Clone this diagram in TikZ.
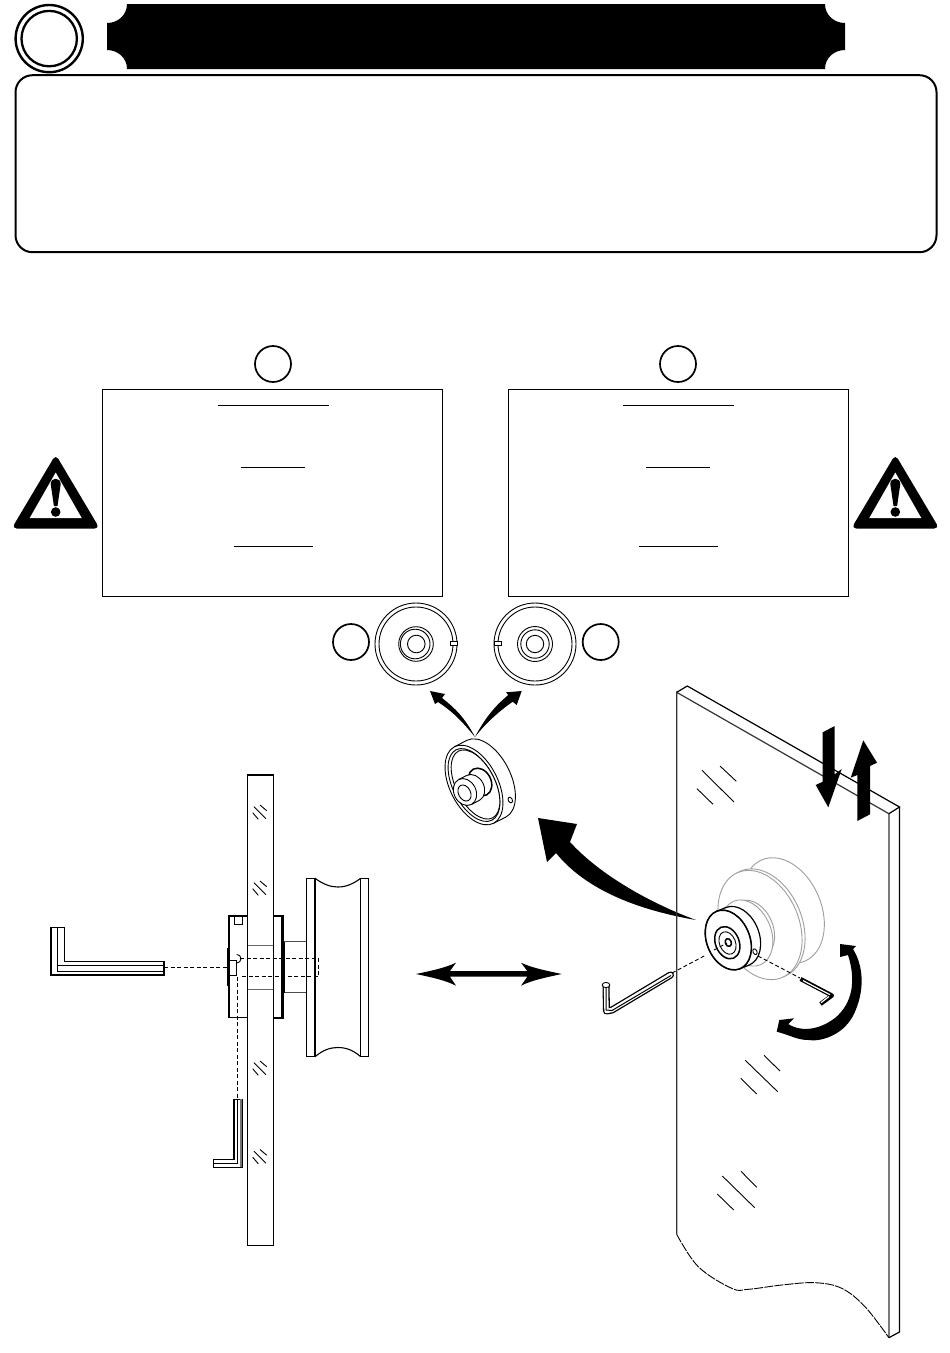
\documentclass[tikz,border=0pt]{standalone}
\tikzset{
  ink/.style={draw=black,line width=#1},
  badge/.style={circle,draw=black,line width=1.7pt,minimum size=36pt,inner sep=0pt},
  panel/.style={rectangle,draw=black,line width=1.2pt,minimum width=340pt,minimum height=207pt,inner sep=0pt},
  uline/.style={draw=black,line width=1pt},
  leader/.style={draw=black,line width=.9pt,dash pattern=on 4pt off 2.5pt},
  thin part/.style={draw=black,line width=.9pt,fill=white},
  ghost/.style={draw=black!38,line width=.9pt,fill=white},
  dark part/.style={draw=black,line width=1.5pt,fill=white},
  hatch/.style={draw=black,line width=.9pt},
  glass/.style={draw=black,line width=1.2pt},
}
% #1 style, #2 x, #3 y, #4 angle, #5 a, #6 b
\newcommand\ovalat[6]{\path[#1,shift={(#2,#3)},rotate=#4] (0,0) ellipse [x radius=#5pt,y radius=#6pt];}
% cylinder: #7 depth
\newcommand\cylat[7]{\begin{scope}[shift={(#2,#3)},rotate=#4]
  \path[#1] (0,-#7) ellipse [x radius=#5pt,y radius=#6pt];
  \fill[white] (-#5,0) rectangle (#5,-#7);
  \path[#1,fill=none] (-#5,0) -- (-#5,-#7) (#5,0) -- (#5,-#7);
  \path[#1] (0,0) ellipse [x radius=#5pt,y radius=#6pt];
\end{scope}}
\newcommand\warnsign[1]{
  \fill[black,rounded corners=5pt] (#1,454.5) -- (#1+44,528.5) -- (#1-44,528.5) -- cycle;
  \fill[white] (#1,472.5) -- (#1+26,518) -- (#1-26,518) -- cycle;
  \fill[black] (#1-5,484) .. controls (#1-5,477) and (#1+5,477) .. (#1+5,484) -- (#1+1.8,506) -- (#1-1.8,506) -- cycle;
  \fill[black] (#1,512) circle [radius=4.8pt];
}
\begin{document}
\begin{tikzpicture}[x=1pt,y=-1pt]
\useasboundingbox (0,0) rectangle (950,1353);

% header
\node[circle,draw=black,line width=2.4pt,minimum size=67.2pt,inner sep=0pt] (ringout) at (49.2,38.6) {};
\node[circle,draw=black,line width=2.3pt,minimum size=55.4pt,inner sep=0pt] (ringin) at (49.2,38.6) {};
\fill[black] (127,4) -- (825,4) .. controls (825,15) and (834,23) .. (845,23) -- (845,50)
  .. controls (834,50) and (825,58) .. (825,69) -- (127,69) .. controls (127,58) and (118,50) .. (107,50)
  -- (107,23) .. controls (118,23) and (127,15) .. (127,4) -- cycle;
\node[rectangle,draw=black,line width=2pt,rounded corners=17pt,minimum width=921pt,minimum height=177pt,inner sep=0pt] (intro) at (476,163.7) {};

% panels
\node[badge] (ca) at (273,364) {};
\node[badge] (cb) at (678,364) {};
\node[panel] (pa) at (272.5,493) {};
\node[panel] (pb) at (678.5,493) {};
\draw[uline] (217.5,405.3) -- (329,405.3) (241,467.6) -- (305,467.6) (233.5,546.5) -- (313,546.5);
\draw[uline] (622.5,405.3) -- (734,405.3) (646,467.6) -- (710,467.6) (638.5,546.5) -- (718,546.5);
\warnsign{55.7}
\warnsign{895.3}

% front views
\node[badge] (cc) at (351,642) {};
\node[badge] (cd) at (600.7,642) {};
\draw[black,line width=.9pt] (416,644) circle [radius=41pt] (416,644) circle [radius=37pt]
  (416,644) circle [radius=17.3pt] (415.2,644) circle [radius=14.8pt] (416.3,644) circle [radius=8.8pt];
\draw[black,line width=.9pt,fill=white] (450.7,641.7) rectangle (457,645.7);
\draw[black,line width=.9pt] (535,644) circle [radius=41pt] (535,644) circle [radius=37pt]
  (535,644) circle [radius=17.5pt] (535,644) circle [radius=14.2pt] (535,644) circle [radius=8.7pt];
\draw[black,line width=.9pt,fill=white] (494,641.7) rectangle (501,645.7);

% small arrows
\fill[black] (475,737) .. controls (465,718) and (455,708) .. (442,698) -- (445,694) -- (430,691) -- (435,704) -- (438,702) .. controls (455,713) and (465,725) .. (475,737) -- cycle;
\fill[black] (475,737) .. controls (485,718) and (495,706) .. (508.3,695) -- (506,692.3) -- (521.7,691) -- (516.7,705) -- (512.7,701.7) .. controls (498,712) and (485,724) .. (475,737) -- cycle;

% tilted hub
\cylat{thin part}{474}{785}{-63}{43}{24}{14}
\ovalat{thin part}{474}{785}{-63}{39.5}{21}
\ovalat{thin part}{475.5}{784.5}{-63}{37.5}{19.5}
\ovalat{dark part}{480}{782}{-63}{14.5}{11}
\cylat{thin part}{465}{792}{-63}{14}{11}{9}
\ovalat{thin part}{464.5}{793}{-63}{8.5}{6}
\ovalat{thin part}{510.3}{800}{-63}{3}{2}

% big arrow
\fill[black] (538,818) -- (577,824) -- (570,842) .. controls (600,875) and (650,903) .. (696,920)
  .. controls (650,912) and (590,895) .. (556,853) -- (547,862) -- cycle;

% double arrow
\fill[black] (416,974) .. controls (430,971) and (445,968) .. (456,962.7) -- (450,971) -- (527.3,971) -- (521,962.7)
  .. controls (532,968) and (548,971) .. (561.7,974) .. controls (548,977) and (532,980) .. (521,985.7) -- (527.3,976.7)
  -- (450,976.7) -- (456,985.7) .. controls (445,980) and (430,977) .. (416,974) -- cycle;

% section view: glass
\draw[glass] (247.7,775) rectangle (273.3,1245.3);
\foreach \dy in {0,76,256,344.5} {
  \draw[hatch,yshift=-\dy pt] (260,805) -- (266.7,810.7) (254,806.7) -- (266,818.7) (252.7,812.7) -- (258.3,819.3);
}
% front plate
\draw[black,line width=1.3pt] (247.7,916) -- (229,916) -- (229,1017.7) -- (247.7,1017.7);
\draw[black,line width=.9pt] (234.3,916) -- (234.3,924.3) -- (242.7,924.3) -- (242.7,916);
\draw[black,line width=2.2pt] (228,948) -- (228,986);
\draw[black,line width=1pt] (229.3,960) rectangle (236.7,975);
\draw[black,line width=.9pt] (236.7,963) arc [start angle=-90,end angle=90,radius=4.3pt];
% back plate and pulley
\draw[black,line width=1.1pt] (273.3,916) -- (283,916) -- (283,1018) -- (273.3,1018);
\draw[black,line width=.7pt] (281,916) -- (281,1018);
\draw[black!60,line width=1pt] (247.7,945.7) -- (273.3,945.7) (247.7,989.3) -- (273.3,989.3);
\draw[black!70,line width=1pt] (284,941.7) -- (306.7,941.7) (284,992.7) -- (306.7,992.7);
\draw[black,line width=1.8pt] (284.3,941.7) -- (284.3,992.7);
\draw[black,line width=1.1pt] (306.7,878.3) rectangle (315,1056.7) (360.7,878.3) rectangle (368.3,1056.7);
\draw[black,line width=1.1pt] (315,878.3) .. controls (323,884) and (330,887) .. (337.8,887) .. controls (346,887) and (353,884) .. (360.7,878.3);
\draw[black,line width=1.1pt] (315,1056.7) .. controls (323,1050) and (330,1047.5) .. (337.8,1047.5) .. controls (346,1047.5) and (353,1050) .. (360.7,1056.7);
% section leaders
\coordinate (keyA) at (164,967.3);
\coordinate (plateA) at (228,967.3);
\coordinate (keyB) at (237.3,1099.3);
\coordinate (plateB) at (237.3,976.7);
\draw[leader] (keyA) -- (plateA);
\draw[leader] (plateB) -- (keyB);
\draw[leader] (240,958.3) -- (318.3,958.3) -- (318.3,976.7) -- (240,976.7);
% left key
\draw[black,line width=1.1pt,fill=white] (51,927.7) -- (64.3,927.7) -- (64.3,961.7) -- (164,961.7) -- (164,975) -- (51,975) -- cycle;
\draw[black,line width=1pt] (57.3,927.7) -- (57.3,971.7) -- (164,971.7) (57.3,965) -- (164,965);
% lower key
\draw[black,line width=1.1pt,fill=white] (234,1099.3) -- (242.7,1099.3) -- (242.7,1167.3) -- (213.3,1167.3) -- (213.3,1159.3) -- (234,1159.3) -- cycle;
\fill[black!55] (239.6,1099.3) rectangle (241.5,1166.5);
\draw[black,line width=1pt] (237.2,1099.3) -- (237.2,1163.3) -- (213.3,1163.3);

% isometric glass
\draw[glass,draw=black!80] (676.7,1234.3) -- (676.7,692.3) -- (888.9,813.7) -- (888.9,1337.7);
\draw[glass] (676.7,692.3) -- (687.3,686) -- (899.5,807) -- (888.9,813.7);
\draw[glass] (899.5,807) -- (899.5,1332) -- (888.9,1337.7);
\draw[black,line width=.9pt,dash pattern=on 9pt off 1.2pt] plot[smooth,tension=.6] coordinates {(676.7,1234.3) (698.3,1266.7) (731.7,1288.3) (748.3,1289.3) (781.7,1285) (815,1282.7) (841.7,1288.3) (865,1306.7) (888.9,1337.7)};
\draw[hatch] (720,766) -- (736.3,781.3) (702,770.3) -- (734,802) (697,788.7) -- (713,804.3);
\draw[hatch] (764,1055.3) -- (780,1071) (745.3,1060.3) -- (777.7,1091.7) (740.7,1078.3) -- (756.7,1094);
\draw[hatch] (741,1171.3) -- (756.7,1187.3) (722.3,1176) -- (754.7,1207.7) (717.3,1194) -- (733.7,1210);

% up and down arrows
\fill[black] (822.7,732.3) -- (834.7,726) -- (834.7,774.3) -- (841.7,769) -- (828.3,807.3) -- (815.7,785) -- (822.7,781.7) -- cycle;
\fill[black] (863.3,740.3) -- (877,762.7) -- (870,766) -- (870,814.3) -- (857.3,821) -- (857.3,775) -- (850.7,777.7) -- cycle;

% ghost pulley
\ovalat{ghost}{783.3}{910.5}{-67}{55}{38}
\ovalat{ghost}{763}{923.5}{-67}{57}{38.8}
\ovalat{ghost}{760}{925}{-67}{57}{38.8}
\ovalat{ghost}{752}{929}{-67}{30}{21}
\ovalat{ghost}{747}{933}{-67}{34.5}{24}

% black disc
\cylat{thin part,line width=1.2pt}{728.3}{940}{-68}{31}{21.5}{10}
\ovalat{dark part}{728.3}{940}{-68}{31}{21.5}
\ovalat{dark part}{727.3}{942.7}{-68}{16.7}{11.8}
\ovalat{thin part}{727.5}{943}{-68}{11.7}{8}
\ovalat{dark part}{728.3}{942.5}{-68}{4}{3}
\ovalat{thin part}{755}{951.7}{-68}{3}{2}

% right keys
\draw[black,line width=7pt,line join=round,line cap=round] (670.5,975) -- (612,1010) -- (606.5,1011) -- (606,986);
\draw[white,line width=4.4pt,line join=round,line cap=round] (670.5,975) -- (612,1010) -- (606.5,1011) -- (606,986);
\draw[black,line width=1pt,line join=round] (671,975.5) -- (612,1010.5) -- (606,1010) -- (606,986);
\ovalat{thin part}{606}{985}{0}{3.8}{2.6}
\draw[black,line width=4.2pt,line join=round] (800.5,979) -- (832,995.5) -- (820.5,1004);
\draw[white,line width=1.2pt] (803,980.6) -- (830,994.7);
\draw[white,line width=1.2pt] (829,996.5) -- (821,1002.7);

% right leaders
\coordinate (rkA) at (672,973);
\coordinate (rpA) at (727,943);
\coordinate (rkB) at (800,978);
\coordinate (rpB) at (758,956);
\draw[leader] (rkA) -- (706,955);
\draw[leader] (714,950) -- (rpA);
\draw[leader] (rpB) -- (rkB);

% rotate arrow
\fill[black] (840,944) -- (856,946) -- (853,949) .. controls (863,965) and (866,990) .. (853,1016)
  .. controls (842,1036) and (820,1042) .. (808,1040) .. controls (797,1040) and (790,1035) .. (776.7,1031.7)
  -- (779.3,1020) -- (794,1018.3) -- (788.3,1024) .. controls (797,1030) and (815,1033) .. (835,1018)
  .. controls (853,1003) and (856,980) .. (848,955) -- (840,957) -- cycle;
\end{tikzpicture}
\end{document}
